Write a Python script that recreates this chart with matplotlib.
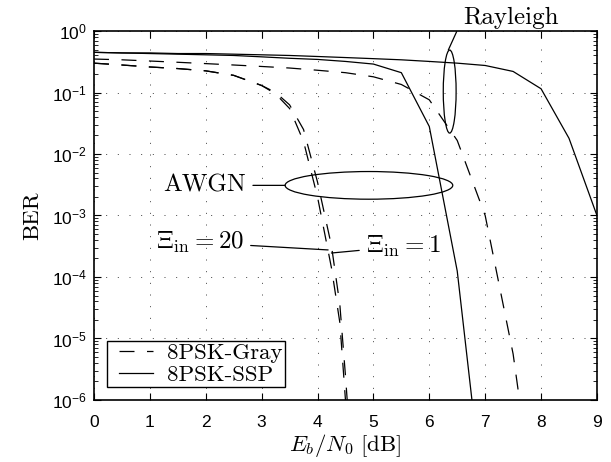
import matplotlib
matplotlib.use("Agg")
from matplotlib import pyplot as plt
from matplotlib.patches import Ellipse
from matplotlib.lines import Line2D
from matplotlib.legend_handler import HandlerLine2D
from matplotlib.ticker import LogLocator, NullFormatter, FixedLocator
import numpy as np

# tick labels: Helvetica-like, annotations: Computer Modern
plt.rcParams['font.family'] = 'Liberation Sans'
plt.rcParams['mathtext.fontset'] = 'custom'
plt.rcParams['mathtext.rm'] = 'Liberation Sans'
plt.rcParams['mathtext.it'] = 'Liberation Sans:italic'
plt.rcParams['mathtext.bf'] = 'Liberation Sans:bold'

# ---- data (BER) ----
ebn0 = [0, 0.5, 1, 1.5, 2, 2.5, 3, 3.5, 4, 4.5, 5, 5.5, 6, 6.5, 7, 7.5, 8, 8.5, 9]

ber_ssp_rayleigh = [0.45, 0.44, 0.44, 0.43, 0.43, 0.42, 0.41, 0.40, 0.385, 0.37,
                    0.355, 0.34, 0.32, 0.30, 0.275, 0.22, 0.115, 0.018, 1.0e-3]

ebn0_ssp_awgn = [0, 0.5, 1, 1.5, 2, 2.5, 3, 3.5, 4, 4.5, 5, 5.5, 6, 6.5, 7]
ber_ssp_awgn = [0.45, 0.44, 0.43, 0.42, 0.41, 0.40, 0.38, 0.36, 0.345, 0.32,
                0.29, 0.21, 0.028, 1.25e-4, 1.3e-8]

ebn0_gray_rayleigh = [0, 0.5, 1, 1.5, 2, 2.5, 3, 3.5, 4, 4.5, 5, 5.5, 6, 6.5, 7, 7.5, 8]
ber_gray_rayleigh = [0.35, 0.34, 0.325, 0.31, 0.295, 0.28, 0.265, 0.25, 0.23, 0.21,
                     0.18, 0.135, 0.076, 0.0166, 1.0e-3, 5.6e-6, 3e-9]

ebn0_gray_awgn = [0, 0.5, 1, 1.5, 2, 2.5, 3, 3.25, 3.5, 3.75, 4, 4.25, 4.4, 4.5, 4.6]
ber_gray_awgn_xi20 = [0.30, 0.28, 0.26, 0.245, 0.225, 0.19, 0.13, 0.095, 0.055, 0.016,
                      2.0e-3, 1.4e-4, 1.8e-5, 1.0e-6, 5e-8]
ber_gray_awgn_xi1 = [0.30, 0.28, 0.26, 0.245, 0.225, 0.19, 0.13, 0.10, 0.063, 0.025,
                     3.5e-3, 3.2e-4, 3.5e-5, 2.5e-6, 1.3e-7]

xticks = list(range(0, 10))
yticks = [1e-6, 1e-5, 1e-4, 1e-3, 1e-2, 1e-1, 1e0]

dash = (0, (12, 10))
lw = 0.9

fig = plt.figure(figsize=(6.11, 4.62), dpi=100)
ax = fig.add_axes([0.1538, 0.1342, 0.8232, 0.7987])

ax.plot(ebn0_gray_awgn, ber_gray_awgn_xi20, color='k', lw=lw, linestyle=dash, label='8PSK-Gray')
ax.plot(ebn0_gray_awgn, ber_gray_awgn_xi1, color='k', lw=lw, linestyle=dash)
ax.plot(ebn0_gray_rayleigh, ber_gray_rayleigh, color='k', lw=lw, linestyle=dash)
ax.plot(ebn0_ssp_awgn, ber_ssp_awgn, color='k', lw=lw, linestyle='-', label='8PSK-SSP')
ax.plot(ebn0, ber_ssp_rayleigh, color='k', lw=lw, linestyle='-')

ax.set_yscale('log')
ax.set_xlim(0, 9)
ax.set_ylim(1e-6, 1)
ax.xaxis.set_major_locator(FixedLocator(xticks))
ax.yaxis.set_major_locator(FixedLocator(yticks))
ax.yaxis.set_minor_locator(LogLocator(base=10, subs=np.arange(2, 10), numticks=20))
ax.yaxis.set_minor_formatter(NullFormatter())
ax.tick_params(which='both', direction='in', top=True, right=True, labelsize=12.5)
ax.tick_params(which='major', length=5, width=0.8)
ax.tick_params(which='minor', length=3, width=0.6)
ax.tick_params(axis='x', pad=11)
ax.tick_params(axis='y', pad=5)
for s in ax.spines.values():
    s.set_linewidth(1.2)

ax.grid(True, which='major', color='0.25', linestyle=(0, (1, 11)), linewidth=0.7)

ax.set_xlabel(r'$E_b/N_0\ \mathrm{[dB]}$', math_fontfamily='cm', fontsize=16.5, labelpad=1)
ax.set_ylabel('BER', family='cmr10', fontsize=16.5, labelpad=7)

leg = ax.legend(loc='lower left', prop={'family': 'cmr10', 'size': 16.5},
                fancybox=False, edgecolor='k', framealpha=1, handlelength=1.9,
                borderpad=0.12, labelspacing=0.05, handletextpad=0.6, borderaxespad=0.55,
                handler_map={Line2D: HandlerLine2D(xpad=0.42)})
leg.get_frame().set_linewidth(1.0)

# annotations
ax.add_patch(Ellipse((4.92 / 9, (6 - 2.51) / 6), 3.0 / 9, 0.45 / 6, transform=ax.transAxes,
                     fill=False, edgecolor='k', lw=lw))
ax.add_patch(Ellipse((6.365 / 9, (6 - 0.985) / 6), 0.23 / 9, 1.35 / 6, transform=ax.transAxes,
                     fill=False, edgecolor='k', lw=lw))

line = dict(arrowstyle='-', color='k', lw=lw, shrinkA=3, shrinkB=0)
ax.annotate('AWGN', xy=(3.42, 10 ** -2.51), xytext=(2.72, 10 ** -2.51), ha='right', va='center',
            family='cmr10', fontsize=18, arrowprops=line)
ax.annotate(r'$\Xi_{\rm in}=20$', xy=(4.19, 10 ** -3.56), xytext=(2.68, 10 ** -3.44),
            ha='right', va='center', math_fontfamily='cm', fontsize=18, arrowprops=line)
ax.annotate(r'$\Xi_{\rm in}=1$', xy=(4.25, 10 ** -3.61), xytext=(4.87, 10 ** -3.5),
            ha='left', va='center', math_fontfamily='cm', fontsize=18, arrowprops=line)
ax.annotate('Rayleigh', xy=(6.34, 10 ** -0.31), xytext=(6.6, 10 ** 0.21), ha='left', va='center',
            family='cmr10', fontsize=18, annotation_clip=False,
            arrowprops=dict(line, relpos=(0, 0.5), shrinkA=6))

fig.savefig('out.png', dpi=100)
